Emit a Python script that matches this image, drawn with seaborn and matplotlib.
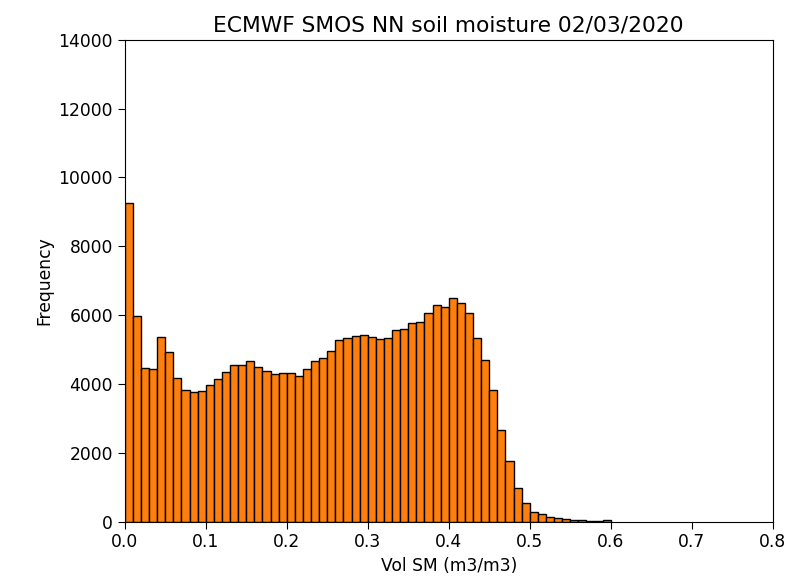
import numpy as np
import pandas as pd
import matplotlib
matplotlib.use("Agg")
import matplotlib.pyplot as plt
import seaborn as sns

# bin edges (0.01 wide) and counts
bin_edges = [round(0.01 * i, 2) for i in range(61)]
counts = [
    9250, 5980, 4470, 4430, 5350, 4930, 4160, 3820, 3760, 3790,
    3980, 4130, 4350, 4550, 4550, 4660, 4500, 4390, 4290, 4320,
    4320, 4240, 4430, 4660, 4740, 4960, 5270, 5340, 5380, 5420,
    5370, 5300, 5330, 5560, 5600, 5760, 5800, 6060, 6290, 6240,
    6510, 6360, 6060, 5340, 4690, 3820, 2660, 1770, 970, 555,
    290, 215, 145, 100, 70, 55, 40, 28, 18, 60,
]
bin_centers = [round(b + 0.005, 4) for b in bin_edges[:-1]]

df = pd.DataFrame({"sm": bin_centers, "count": counts})

sns.set_style("ticks")
plt.rcParams['font.family'] = ['DejaVu Sans']
plt.rcParams['font.size'] = 12.3
plt.rcParams['text.color'] = 'black'
plt.rcParams['axes.labelcolor'] = 'black'
plt.rcParams['xtick.color'] = 'black'
plt.rcParams['ytick.color'] = 'black'

fig = plt.figure(figsize=(8.05, 5.77), dpi=100)
ax = fig.add_axes([0.155, 0.096, 0.805, 0.835])

sns.histplot(data=df, x="sm", weights="count", bins=bin_edges, ax=ax,
             color='#ff7f0e', edgecolor='black', linewidth=1.0, alpha=1.0)

ax.set_xlim(0, 0.8)
ax.set_ylim(0, 14000)
ax.set_xticks(np.arange(0, 0.81, 0.1))
ax.set_xticklabels([f"{t:.1f}" for t in np.arange(0, 0.81, 0.1)])
ax.set_yticks(np.arange(0, 14001, 2000))
for s in ax.spines.values():
    s.set_visible(True)
    s.set_color('black')
ax.tick_params(direction='out', length=5, color='black')
ax.set_xlabel('Vol SM (m3/m3)')
ax.set_ylabel('Frequency')
ax.set_title('ECMWF SMOS NN soil moisture 02/03/2020', fontsize=15.7)

fig.savefig('out.png', dpi=100)
